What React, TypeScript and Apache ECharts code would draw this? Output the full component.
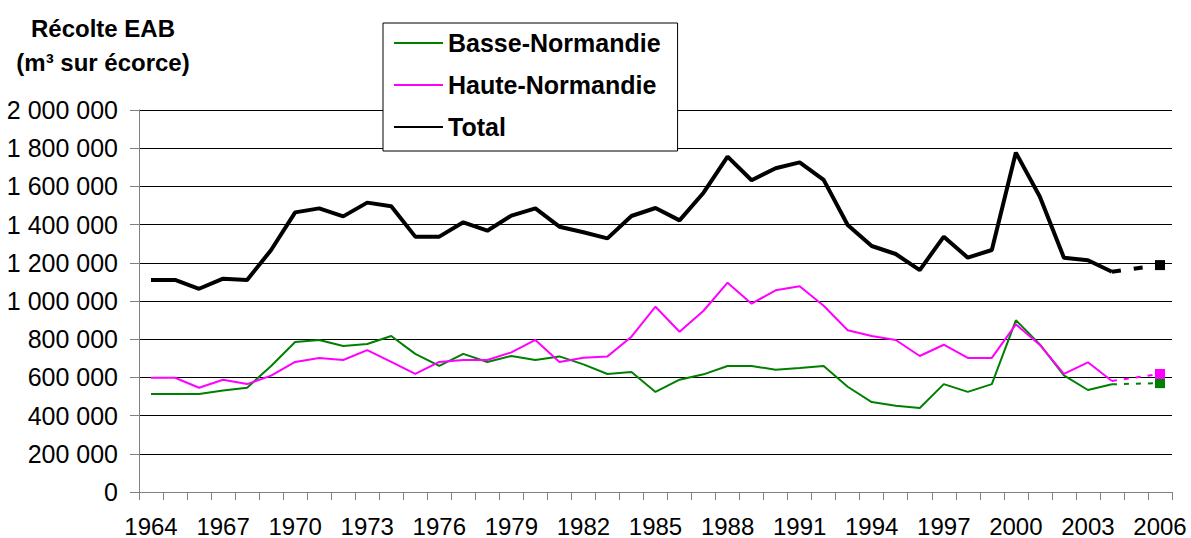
import React, { useEffect, useRef } from "react";
import * as echarts from "echarts";

const years = [
  "1964", "1965", "1966", "1967", "1968", "1969", "1970", "1971", "1972", "1973",
  "1974", "1975", "1976", "1977", "1978", "1979", "1980", "1981", "1982", "1983",
  "1984", "1985", "1986", "1987", "1988", "1989", "1990", "1991", "1992", "1993",
  "1994", "1995", "1996", "1997", "1998", "1999", "2000", "2001", "2002", "2003",
  "2004", "2005", "2006",
];

const basseNormandie = [
  513000, 513000, 513000, 532000, 546000, 660000, 785000, 796000, 764000, 775000,
  817000, 723000, 660000, 723000, 681000, 712000, 691000, 710000, 668000, 618000,
  628000, 524000, 588000, 616000, 660000, 660000, 640000, 649000, 660000, 551000,
  471000, 452000, 440000, 565000, 524000, 565000, 899000, 773000, 611000, 534000,
  564000,
];

const hauteNormandie = [
  598000, 598000, 546000, 588000, 565000, 609000, 681000, 702000, 691000, 743000,
  681000, 618000, 681000, 691000, 691000, 731000, 796000, 681000, 703000, 710000,
  813000, 970000, 839000, 949000, 1096000, 986000, 1056000, 1077000, 975000, 847000,
  817000, 796000, 712000, 771000, 702000, 702000, 878000, 770000, 618000, 679000,
  581000,
];

const total = [
  1110000, 1110000, 1064000, 1117000, 1110000, 1267000, 1464000, 1485000, 1443000, 1515000,
  1496000, 1337000, 1337000, 1412000, 1368000, 1447000, 1485000, 1389000, 1360000, 1328000,
  1445000, 1487000, 1422000, 1567000, 1756000, 1632000, 1695000, 1726000, 1634000, 1398000,
  1288000, 1246000, 1162000, 1337000, 1227000, 1267000, 1777000, 1546000, 1227000, 1213000,
  1153000,
];

// Projection segments (dashed) for 2004 -> 2006
const projYears = ["2004", "2005", "2006"];
const basseProj = [564000, null, 570000];
const hauteProj = [581000, null, 618000];
const totalProj = [1153000, null, 1188000];

const yTicks = { min: 0, max: 2000000, interval: 200000 };

const FONT = '"Liberation Sans", Arial, sans-serif';

function fmt(v: number) {
  return String(v).replace(/\B(?=(\d{3})+(?!\d))/g, " ");
}

function projData(vals: (number | null)[]) {
  return projYears.map((y, i) => {
    const last = i === projYears.length - 1;
    return last
      ? { value: [y, vals[i]] }
      : { value: [y, vals[i]], symbol: "none" };
  });
}

export default function App() {
  const ref = useRef<HTMLDivElement>(null);
  useEffect(() => {
    if (!ref.current) return;
    const chart = echarts.init(ref.current, undefined, { renderer: "svg" });
    chart.setOption({
      animation: false,
      backgroundColor: "#fff",
      textStyle: { fontFamily: FONT },
      grid: { left: 139, right: 19, top: 110, bottom: 46, containLabel: false },
      graphic: [
        {
          type: "text",
          x: 103,
          y: 11,
          style: {
            text: "Récolte EAB\n(m³ sur écorce)",
            fontSize: 24,
            fontWeight: "bold",
            fontFamily: FONT,
            textAlign: "center",
            lineHeight: 34,
            fill: "#000",
          },
        },
      ],
      legend: {
        data: ["Basse-Normandie", "Haute-Normandie", "Total"],
        orient: "vertical",
        left: 383,
        top: 23,
        padding: [5, 17, 9, 10],
        itemGap: 12,
        itemWidth: 49,
        itemHeight: 14,
        backgroundColor: "#fff",
        borderColor: "#000",
        borderWidth: 1,
        z: 10,
        itemStyle: { opacity: 0, borderWidth: 0 },
        textStyle: {
          fontFamily: FONT,
          fontSize: 25,
          fontWeight: "bold",
          color: "#000",
          lineHeight: 30,
        },
      },
      xAxis: {
        type: "category",
        data: years,
        boundaryGap: true,
        axisLine: { show: true, lineStyle: { color: "#808080", width: 1 } },
        axisTick: { show: true, interval: 0, length: 8, lineStyle: { color: "#808080" } },
        axisLabel: { interval: 2, fontSize: 24, color: "#000", margin: 22, fontFamily: FONT },
        splitLine: { show: false },
      },
      yAxis: {
        type: "value",
        min: yTicks.min,
        max: yTicks.max,
        interval: yTicks.interval,
        axisLine: { show: true, lineStyle: { color: "#808080", width: 1 } },
        axisTick: { show: true, length: 9, lineStyle: { color: "#808080" } },
        axisLabel: {
          fontSize: 25,
          color: "#000",
          margin: 21,
          fontFamily: FONT,
          formatter: (v: number) => fmt(v),
        },
        splitLine: { show: true, lineStyle: { color: "#000", width: 1 } },
      },
      series: [
        {
          name: "Basse-Normandie",
          type: "line",
          data: basseNormandie,
          symbol: "none",
          lineStyle: { color: "#008000", width: 2 },
          itemStyle: { color: "#008000" },
          z: 3,
        },
        {
          name: "Haute-Normandie",
          type: "line",
          data: hauteNormandie,
          symbol: "none",
          lineStyle: { color: "#FF00FF", width: 2 },
          itemStyle: { color: "#FF00FF" },
          z: 4,
        },
        {
          name: "Total",
          type: "line",
          data: total,
          symbol: "none",
          lineStyle: { color: "#000", width: 4 },
          itemStyle: { color: "#000" },
          z: 5,
        },
        {
          name: "BN projection",
          type: "line",
          data: projData(basseProj),
          connectNulls: true,
          symbol: "rect",
          symbolSize: 10,
          showSymbol: true,
          lineStyle: { color: "#008000", width: 2, type: [5, 7] },
          itemStyle: { color: "#008000" },
          z: 3,
        },
        {
          name: "HN projection",
          type: "line",
          data: projData(hauteProj),
          connectNulls: true,
          symbol: "rect",
          symbolSize: 10,
          showSymbol: true,
          lineStyle: { color: "#FF00FF", width: 2, type: [5, 7] },
          itemStyle: { color: "#FF00FF" },
          z: 4,
        },
        {
          name: "Total projection",
          type: "line",
          data: projData(totalProj),
          connectNulls: true,
          symbol: "rect",
          symbolSize: 10,
          showSymbol: true,
          lineStyle: { color: "#000", width: 4, type: [9, 13] },
          itemStyle: { color: "#000" },
          z: 5,
        },
      ],
    });
    return () => chart.dispose();
  }, []);
  return (
    <div
      ref={ref}
      style={{ position: "absolute", left: 0, top: 0, width: 1191, height: 538 }}
    />
  );
}
